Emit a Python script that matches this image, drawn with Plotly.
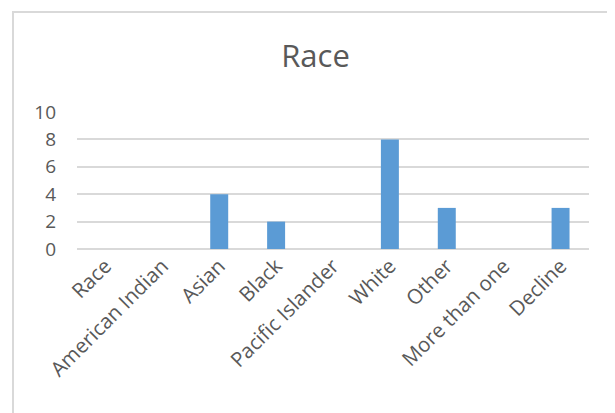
import plotly.graph_objects as go

categories = ["Race", "American Indian", "Asian", "Black", "Pacific Islander",
              "White", "Other", "More than one", "Decline"]
values = [0, 0, 4, 2, 0, 8, 3, 0, 3]
y_ticks = [0, 2, 4, 6, 8, 10]

W, H = 615, 413
OFF = 8  # page body margin of the browser
L, R, T, B = 77 - OFF, 589 - OFF, 112 - OFF, 249 - OFF

fig = go.Figure(go.Bar(x=categories, y=values, marker_color="#5B9BD5",
                       marker_line_width=0))

pw = R - L
ph = B - T
fig.add_shape(type="rect", xref="paper", yref="paper",
              x0=(13 - OFF - L) / pw, x1=(800 - L) / pw,
              y0=(B - 600) / ph, y1=(B - (12 - OFF)) / ph,
              line=dict(color="#D9D9D9", width=2), fillcolor="rgba(0,0,0,0)",
              layer="below")

fig.update_layout(
    width=W, height=H,
    margin=dict(l=L, r=W - R, t=T, b=H - B, pad=0, autoexpand=False),
    paper_bgcolor="white", plot_bgcolor="white",
    font=dict(family="Open Sans", color="#595959", size=19),
    bargap=0.684,
    showlegend=False,
    title=dict(text="Race", x=(315.5 - OFF) / W, xanchor="center",
               y=1 - (56 - OFF) / H, yanchor="middle", yref="container",
               font=dict(size=31, color="#595959", family="Open Sans")),
    xaxis=dict(tickangle=-45, showgrid=False, showline=False, ticks="",
               automargin=False, ticklabelstandoff=0, tickfont=dict(size=20.5)),
    yaxis=dict(range=[0, 10], tickvals=y_ticks, showgrid=True,
               gridcolor="#D9D9D9", gridwidth=1.5, zeroline=True,
               zerolinecolor="#D9D9D9", zerolinewidth=1.5, showline=False,
               ticks="", automargin=False, ticklabelstandoff=20,
               tickfont=dict(size=19)),
)

fig.write_html("out.html")
